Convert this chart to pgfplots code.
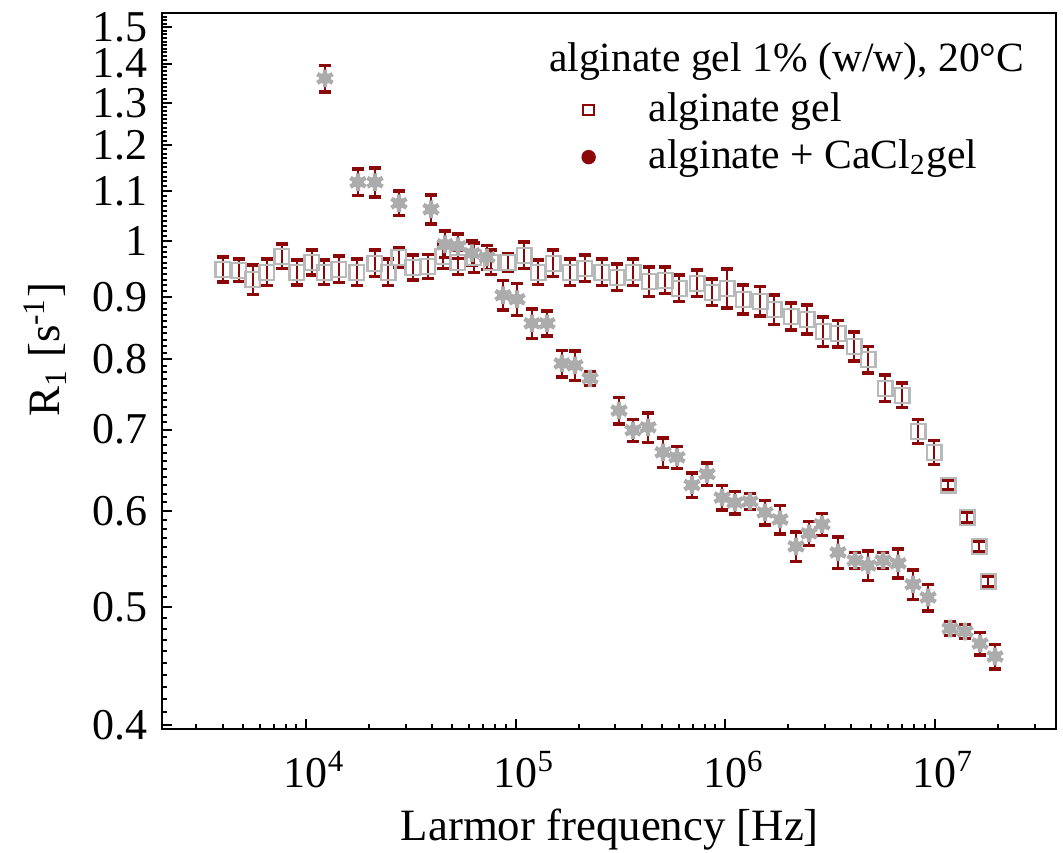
\documentclass[border=0pt]{standalone}
\usepackage{pgfplots}
\pgfplotsset{compat=1.18}
\usepackage{pgfplotstable}
\usepackage{fontspec}
\setmainfont{Liberation Serif}
\definecolor{darkred}{RGB}{140,8,8}
\definecolor{mgray}{RGB}{172,172,172}
\definecolor{sqgray}{RGB}{185,185,185}
\pgfplotsset{mylegimg/.style={legend image code/.code={\path[draw=none,fill=none] (0pt,0pt) -- (17pt,0pt); \draw[##1] plot coordinates {(4pt,0pt)};}}}

\pgfplotstableread{
x y e
4016 0.9483 0.024
4789 0.9466 0.021
5585 0.9305 0.028
6514 0.9430 0.025
7680 0.9720 0.023
9057 0.9430 0.024
10680 0.9610 0.024
12190 0.9430 0.023
14370 0.9483 0.025
17510 0.9430 0.025
21350 0.9591 0.025
24630 0.9430 0.025
27790 0.9701 0.019
32410 0.9519 0.024
38220 0.9537 0.023
45070 0.9720 0.023
53150 0.9610 0.023
63370 0.9701 0.028
76400 0.9610 0.023
92100 0.9610 0.017
109800 0.9738 0.025
128100 0.9430 0.023
151000 0.9591 0.025
182100 0.9430 0.025
214600 0.9501 0.025
258700 0.9430 0.025
305100 0.9341 0.025
363900 0.9430 0.025
433700 0.9270 0.028
517200 0.9288 0.025
603100 0.9148 0.025
735000 0.9235 0.025
866800 0.9079 0.025
1022000 0.9148 0.037
1219000 0.8960 0.027
1469000 0.8926 0.028
1713000 0.8791 0.028
2065000 0.8675 0.025
2463000 0.8627 0.027
2936000 0.8432 0.028
3462000 0.8400 0.025
4129000 0.8196 0.027
4815000 0.7996 0.025
5803000 0.7571 0.025
6996000 0.7471 0.023
8341000 0.6977 0.023
9945000 0.6705 0.023
11600000 0.6302 0.0095
14290000 0.5927 0.0095
16310000 0.5610 0.0095
18000000 0.5251 0.0095
}\sone

\pgfplotstableread{
x y e
12320 1.3614 0.025
17710 1.1183 0.025
21350 1.1183 0.027
27790 1.0747 0.023
39510 1.0625 0.028
46080 0.9943 0.025
53150 0.9906 0.023
62000 0.9775 0.023
73110 0.9701 0.023
87160 0.9028 0.028
101700 0.8960 0.030
119900 0.8560 0.028
141400 0.8560 0.024
166700 0.7936 0.025
192300 0.7906 0.028
226800 0.7713 0.013
311900 0.7257 0.025
363900 0.6990 0.021
429100 0.7030 0.028
506000 0.6705 0.028
590000 0.6642 0.021
695800 0.6302 0.023
820500 0.6434 0.021
967600 0.6154 0.023
1116000 0.6096 0.021
1316000 0.6108 0.015
1552000 0.5983 0.023
1830000 0.5904 0.027
2182000 0.5610 0.028
2518000 0.5750 0.023
2904000 0.5849 0.021
3462000 0.5547 0.030
4174000 0.5463 0.015
4815000 0.5412 0.028
5678000 0.5463 0.015
6696000 0.5433 0.027
7896000 0.5221 0.028
9312000 0.5093 0.025
11860000 0.4802 0.013
13980000 0.4775 0.013
16490000 0.4667 0.021
19440000 0.4554 0.023
}\stwo

\begin{document}
\begin{tikzpicture}
\begin{axis}[
  scale only axis,
  width=223.5pt, height=179pt,
  xmode=log, ymode=log,
  xmin=2055, xmax=3.8e7,
  ymin=0.397, ymax=1.541,
  axis line style={line width=0.6pt},
  tick style={black, line width=0.5pt},
  tick align=inside,
  xtick pos=left, ytick pos=left,
  major tick length=2.6pt,
  minor tick length=1.3pt,
  xtick={1e4,1e5,1e6,1e7},
  xticklabels={10\rlap{\textsuperscript{4}},10\rlap{\textsuperscript{5}},10\rlap{\textsuperscript{6}},10\rlap{\textsuperscript{7}}},
  minor xtick={3000,4000,5000,6000,7000,8000,9000,20000,30000,40000,50000,60000,70000,80000,90000,200000,300000,400000,500000,600000,700000,800000,900000,2000000,3000000,4000000,5000000,6000000,7000000,8000000,9000000,20000000,30000000},
  ytick={0.4,0.5,0.6,0.7,0.8,0.9,1,1.1,1.2,1.3,1.4,1.5},
  yticklabels={0.4,0.5,0.6,0.7,0.8,0.9,1,1.1,1.2,1.3,1.4,1.5},
  minor ytick={0.41,0.42,0.43,0.44,0.45,0.46,0.47,0.48,0.49,0.51,0.52,0.53,0.54,0.55,0.56,0.57,0.58,0.59,0.61,0.62,0.63,0.64,0.65,0.66,0.67,0.68,0.69,0.71,0.72,0.73,0.74,0.75,0.76,0.77,0.78,0.79,0.81,0.82,0.83,0.84,0.85,0.86,0.87,0.88,0.89,0.91,0.92,0.93,0.94,0.95,0.96,0.97,0.98,0.99,1.01,1.02,1.03,1.04,1.05,1.06,1.07,1.08,1.09,1.11,1.12,1.13,1.14,1.15,1.16,1.17,1.18,1.19,1.21,1.22,1.23,1.24,1.25,1.26,1.27,1.28,1.29,1.31,1.32,1.33,1.34,1.35,1.36,1.37,1.38,1.39,1.41,1.42,1.43,1.44,1.45,1.46,1.47,1.48,1.49,1.51,1.52,1.53,1.54},
  tick label style={font=\fontsize{11}{12}\selectfont},
  xticklabel style={yshift=-2pt},
  label style={font=\fontsize{11.2}{13}\selectfont},
  xlabel={Larmor frequency [Hz]},
  ylabel={R\textsubscript{1} [s\textsuperscript{-1}]},
  xlabel style={at={(axis description cs:0.501,-0.141)}, anchor=center},
  ylabel style={at={(axis description cs:-0.131,0.53)}, anchor=center},
  legend style={draw=none, fill=none, font=\fontsize{10.4}{12}\selectfont,
    at={(rel axis cs:0.445,0.912)}, anchor=north west, row sep=-1pt},
  legend cell align=left,
  clip=false,
]
% series 1: open squares
\addplot[only marks, mark=square, mark size=1.85pt, draw=sqgray, line width=0.55pt, forget plot]
  table[x=x,y=y] {\sone};
% series 2: grey splats
\addplot[only marks, mark=*, mark size=1.3pt, draw=mgray, fill=mgray, forget plot]
  table[x=x,y=y] {\stwo};
\addplot[only marks, mark=asterisk, mark size=2.2pt, draw=mgray, line width=1.1pt, forget plot]
  table[x=x,y=y] {\stwo};
% error bars
\addplot[draw=none, mark=none, forget plot,
  error bars/.cd, y dir=both, y explicit relative,
  error bar style={draw=darkred, line width=0.55pt},
  error mark options={rotate=90, draw=darkred, line width=0.9pt, mark size=1.5pt}]
  table[x=x,y=y,y error=e] {\sone};
\addplot[draw=none, mark=none, forget plot,
  error bars/.cd, y dir=both, y explicit relative,
  error bar style={draw=darkred, line width=0.55pt},
  error mark options={rotate=90, draw=darkred, line width=0.9pt, mark size=1.5pt}]
  table[x=x,y=y,y error=e] {\stwo};
% legend
\addlegendimage{only marks, mark=square, mark size=1.3pt, draw=darkred, line width=0.5pt, mylegimg}
\addlegendentry{alginate gel}
\addlegendimage{only marks, mark=*, mark size=1.6pt, draw=darkred, fill=darkred, mylegimg}
\addlegendentry{alginate + CaCl\textsubscript{2}gel}
\node[anchor=base west, font=\fontsize{10.4}{12}\selectfont, inner sep=0pt] at (rel axis cs:0.432,0.918) {alginate gel 1\% (w/w), 20\textdegree C};
\coordinate (bbsw) at (rel axis cs:-0.1812,-0.1718);
\coordinate (bbne) at (rel axis cs:1.0078,1.0182);
\end{axis}
\pgfresetboundingbox
\path[use as bounding box] (bbsw) rectangle (bbne);
\end{tikzpicture}
\end{document}
